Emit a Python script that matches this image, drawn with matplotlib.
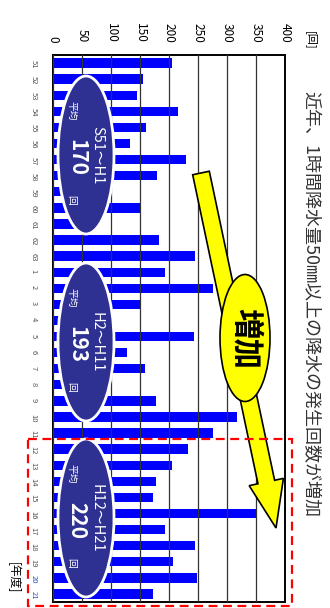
import matplotlib.pyplot as plt
from matplotlib.patches import Ellipse, Rectangle, FancyArrow

plt.rcParams['font.family'] = ['Noto Sans CJK JP', 'DejaVu Sans']

# 年度 (S51..S63, H1..H21)
years = ['51', '52', '53', '54', '55', '56', '57', '58', '59', '60', '61', '62', '63',
         '1', '2', '3', '4', '5', '6', '7', '8', '9', '10', '11', '12', '13', '14',
         '15', '16', '17', '18', '19', '20', '21']
# 1時間降水量50mm以上の発生回数
counts = [205, 155, 144, 216, 160, 132, 229, 180, 95, 151, 78, 182, 245, 193,
          275, 151, 103, 243, 127, 159, 97, 178, 318, 276,
          233, 205, 178, 172, 352, 193, 245, 207, 249, 172]
value_ticks = [0, 50, 100, 150, 200, 250, 300, 350, 400]

period_labels = ['S51～H1', 'H2～H11', 'H12～H21']
period_means = [170, 193, 220]
period_centers = [155, 342, 518]   # ellipse centres along the page (px)

title = '近年、1時間降水量50㎜以上の降水の発生回数が増加'

W, H = 330, 608
fig = plt.figure(figsize=(W / 100, H / 100), dpi=100)
ax = fig.add_axes([53 / W, 1 - 602 / H, 232 / W, 547 / H])

pos = list(range(len(years)))
ax.barh(pos, counts, height=0.58, color='#0000ff', zorder=2)
ax.set_xlim(0, 400)
ax.set_ylim(len(years) - 0.5, -0.5)

ax.xaxis.tick_top()
ax.set_xticks(value_ticks)
ax.set_xticklabels([str(v) for v in value_ticks])
ax.tick_params(axis='x', length=0, pad=9, labelsize=8.5, labelrotation=-90)

ax.set_yticks(pos)
ax.set_yticklabels(years)
ax.tick_params(axis='y', length=0, pad=11, labelsize=5.5, labelrotation=-90,
               labelcolor='#555555')
for lab in ax.get_yticklabels()[-2:]:
    lab.set_color('#3050c8')

ax.grid(axis='x', color='#333333', lw=0.9, zorder=3)
ax.set_axisbelow(False)
for sp in ax.spines.values():
    sp.set_linewidth(1.4)
    sp.set_color('black')

# overlay in pixel units for the call-outs
ov = fig.add_axes([0, 0, 1, 1], zorder=5)
ov.set_xlim(0, W)
ov.set_ylim(H, 0)
ov.axis('off')

ov.add_patch(FancyArrow(201, 173, 75, 355, width=17, head_width=35, head_length=47,
                        length_includes_head=True, fc='#ffff00', ec='black', lw=1.2))
ov.add_patch(Ellipse((245, 338), 50, 127, fc='#ffff00', ec='black', lw=1.2))
ov.text(246, 338, '増加', rotation=-90, fontsize=22, fontweight='bold',
        ha='center', va='center')

for lab, mean, cy in zip(period_labels, period_means, period_centers):
    ov.add_patch(Ellipse((86, cy), 56, 158, fc='#2e3192', ec='white', lw=2))
    ov.text(97, cy, lab, rotation=-90, fontsize=10.5, color='white',
            ha='center', va='center')
    ov.text(72, cy - 44, '平均', rotation=-90, fontsize=7, color='white',
            ha='center', va='center')
    ov.text(77, cy + 2, str(mean), rotation=-90, fontsize=15, fontweight='bold',
            color='white', ha='center', va='center')
    ov.text(71, cy + 45, '回', rotation=-90, fontsize=7, color='white',
            ha='center', va='center')

ov.add_patch(Rectangle((28, 439), 264, 167, fill=False, ec='#ff0000', lw=1.6,
                       ls=(0, (4, 2.5))))

ov.text(310, 304, title, rotation=-90, fontsize=13, color='#333333',
        ha='center', va='center')
ov.text(311, 40, '[回]', rotation=-90, fontsize=8, ha='center', va='center')
ov.text(13, 578, '[年度]', rotation=-90, fontsize=8.5, ha='center', va='center')

fig.savefig('out.png', dpi=100)
